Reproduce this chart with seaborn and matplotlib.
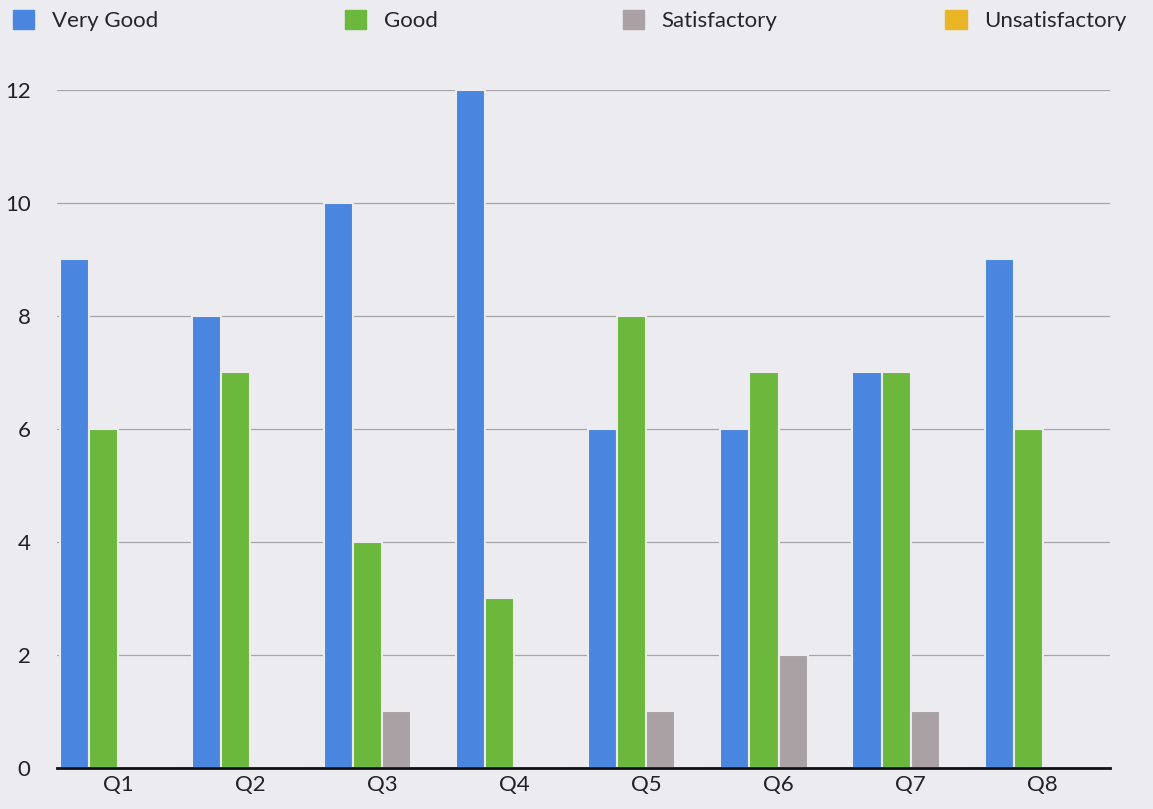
import matplotlib
matplotlib.use("Agg")
import matplotlib.pyplot as plt
import seaborn as sns
import pandas as pd

questions = ["Q1", "Q2", "Q3", "Q4", "Q5", "Q6", "Q7", "Q8"]
very_good = [9, 8, 10, 12, 6, 6, 7, 9]
good = [6, 7, 4, 3, 8, 7, 7, 6]
satisfactory = [0, 0, 1, 0, 1, 2, 1, 0]
unsatisfactory = [0, 0, 0, 0, 0, 0, 0, 0]
series_names = ["Very Good", "Good", "Satisfactory", "Unsatisfactory"]
colors = ["#4a86df", "#6cb83c", "#a9a1a4", "#e9b525"]

rows = []
for name, vals in zip(series_names, [very_good, good, satisfactory, unsatisfactory]):
    for q, v in zip(questions, vals):
        rows.append({"Question": q, "Rating": name, "Count": v})
df = pd.DataFrame(rows)

sns.set_theme(style="white")
plt.rcParams['font.family'] = ['Lato', 'DejaVu Sans']
bg = "#ecebf0"

fig = plt.figure(figsize=(11.53, 8.09), dpi=100, facecolor=bg)
ax = fig.add_axes([0.0494, 0.051, 0.913, 0.838])
ax.set_facecolor(bg)

sns.barplot(data=df, x="Question", y="Count", hue="Rating", hue_order=series_names,
            palette=colors, ax=ax, width=0.88, edgecolor=bg, linewidth=1.5,
            errorbar=None, legend=False, saturation=1)

ax.set_ylim(0, 12)
ax.set_yticks([0, 2, 4, 6, 8, 10, 12])
ax.set_xlim(-0.463, 7.507)
ax.yaxis.grid(True, color="#a6a6a6", linewidth=0.9)
ax.set_axisbelow(True)
for s in ["top", "right", "left"]:
    ax.spines[s].set_visible(False)
ax.spines["bottom"].set_color("#111111")
ax.spines["bottom"].set_linewidth(2)
ax.tick_params(axis="y", length=0, pad=19, labelsize=16, labelcolor="#222222")
ax.tick_params(axis="x", length=0, pad=5, labelsize=16, labelcolor="#222222")
ax.set_xlabel("")
ax.set_ylabel("")

# legend entries placed individually across the top
legend_x = [0.011, 0.299, 0.540, 0.820]
for name, c, lx in zip(series_names, colors, legend_x):
    fig.legend([plt.Rectangle((0, 0), 1, 1, color=c)], [name], loc="center left",
               bbox_to_anchor=(lx, 0.975), frameon=False, fontsize=16,
               handlelength=0.95, handleheight=0.95, handletextpad=0.8,
               borderaxespad=0, borderpad=0)

fig.savefig("out.png", dpi=100, facecolor=bg)
